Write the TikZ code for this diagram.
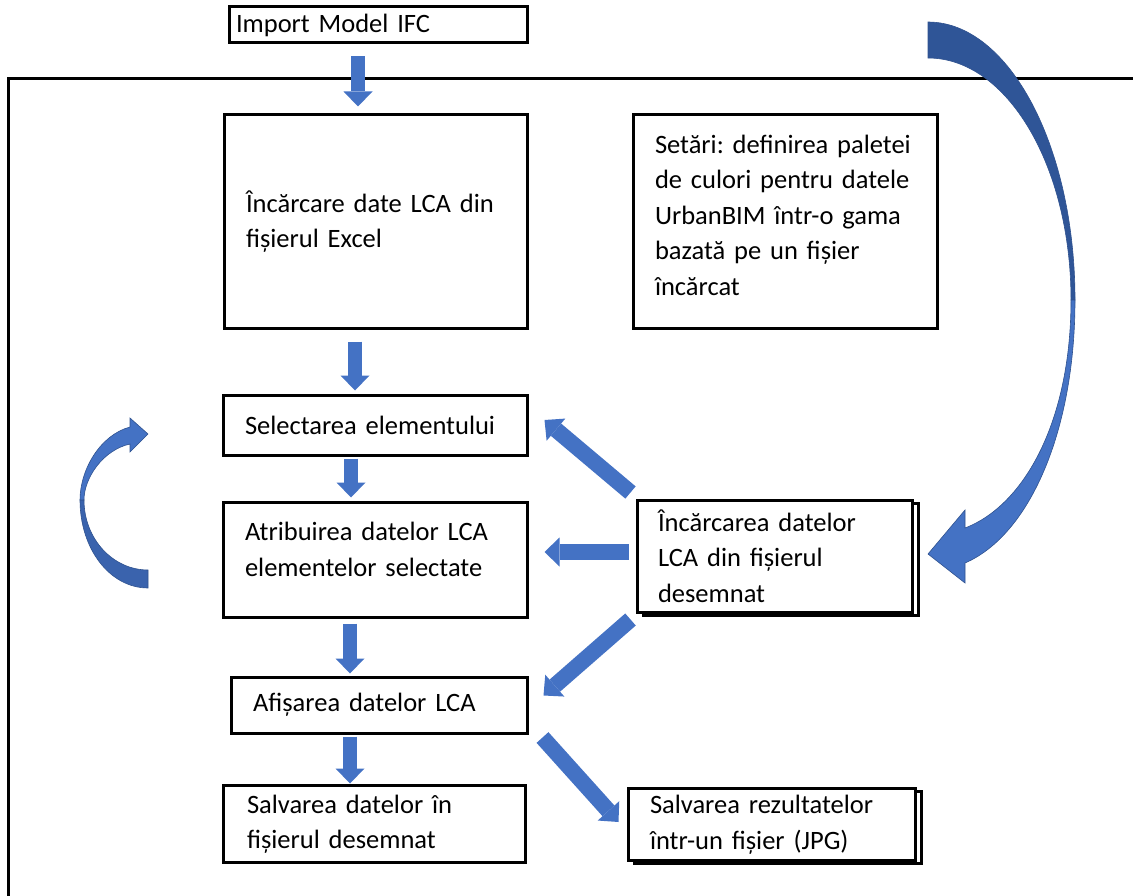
\documentclass[tikz,border=0pt]{standalone}
\usepackage{fontspec}
\setmainfont{Carlito}[WordSpace=0.7]
\frenchspacing
\usetikzlibrary{arrows.meta,shadows}
\definecolor{arrblue}{HTML}{4472C4}
\definecolor{arrdark}{HTML}{2F5597}
\definecolor{arrmid}{HTML}{3A63AD}
\definecolor{arrline}{HTML}{2F528F}

\begin{document}
\begin{tikzpicture}[x=1pt, y=-1pt,
  box/.style={draw, line width=3pt, fill=white, align=left, inner ysep=0pt,
    inner xsep=22pt, font=\fontsize{26.5}{35.5}\selectfont},
  shadowed/.style={copy shadow={shadow xshift=6pt, shadow yshift=-3pt}},
  barrow/.style={arrblue, line width=#1,
    -{Triangle[length=15pt, width=29pt, line width=0pt]}},
  barrow/.default=14pt,
  bandarrow/.style={draw=arrline, line width=0.6pt}]
  \useasboundingbox (0,0) rectangle (1133,896);
  \draw [line width=3pt] (1133,79) -- (8,79) -- (8,896);

  \node [box, inner xsep=7pt, text width=284pt, minimum height=36pt] (1) at (378,25) {Import Model IFC};
  \node [box, text width=259pt, minimum height=213pt] (2) at (375.5,221.5)
    {Încărcare date LCA din\\ fișierul Excel};
  \node [box, text width=260pt, minimum height=213pt] (3) at (785,221.5)
    {Setări: definirea paletei\\ de culori pentru datele\\ UrbanBIM într-o gama\\ bazată pe un fișier\\ încărcat\par\kern13pt};
  \node [box, text width=260pt, minimum height=60pt] (4) at (375,425) {Selectarea elementului};
  \node [box, text width=260pt, minimum height=115pt] (5) at (375,559.5)
    {Atribuirea datelor LCA\\ elementelor selectate\par\kern20pt};
  \node [box, shadowed, inner xsep=21pt, text width=233pt, minimum height=112pt] (6) at (774.5,556)
    {Încărcarea datelor\\ LCA din fișierul\\ desemnat};
  \node [box, text width=252pt, minimum height=56pt] (7) at (379,705) {Afișarea datelor LCA};
  \node [box, inner xsep=24pt, text width=254pt, minimum height=77pt] (8) at (374,824)
    {Salvarea datelor în\\ fișierul desemnat};
  \node [box, shadowed, text width=243pt, minimum height=72pt] (9) at (771.5,824.5)
    {Salvarea rezultatelor\\ într-un fișier (JPG)};

  \draw [barrow] ([xshift=-20pt, yshift=-12pt]1.south) -- ([xshift=-17.5pt, yshift=7pt]2.north);
  \draw [barrow] ([xshift=-20.5pt, yshift=-12pt]2.south) -- ([xshift=-20pt, yshift=3pt]4.north);
  \draw [barrow] ([xshift=-24pt, yshift=-2pt]4.south) -- ([xshift=-24pt, yshift=3pt]5.north);
  \draw [barrow] ([xshift=-25pt, yshift=-5pt]5.south) -- ([xshift=-29pt, yshift=2pt]7.north);
  \draw [barrow] ([xshift=-29pt, yshift=-2pt]7.south) -- ([xshift=-24pt, yshift=0.5pt]8.north);
  \draw [barrow=16pt] ([xshift=-5pt, yshift=6pt]6.north west) -- ([xshift=16pt, yshift=5pt]4.east);
  \draw [barrow=16pt] ([xshift=-7pt, yshift=4pt]6.west) -- ([xshift=16pt, yshift=7.5pt]5.east);
  \draw [barrow=16pt] ([xshift=-5pt, yshift=-6pt]6.south west) -- ([xshift=15pt, yshift=-20pt]7.north east);
  \draw [barrow=16pt] ([xshift=14pt, yshift=-3pt]7.south east) -- ([xshift=-8pt, yshift=2.5pt]9.west);

  \filldraw [bandarrow, fill=arrdark] (928,22) .. controls (1009,22) and (1075,146.5) .. (1075,300)
    -- (1071,300) .. controls (1071,166) and (1007,58) .. (928,58) -- cycle;
  \filldraw [bandarrow, fill=arrblue] (1071,300) -- (1075,300) .. controls (1075,430) and (1030,535) .. (965,563)
    -- (965,583) -- (928,554) -- (965,510) -- (965,528) .. controls (1025,505) and (1071,420) .. (1071,300) -- cycle;
  \filldraw [bandarrow, fill=arrmid] (148,588) .. controls (110,588) and (80,549) .. (80,500)
    -- (84,500) .. controls (84,539) and (113,570) .. (148,570) -- cycle;
  \filldraw [bandarrow, fill=arrblue] (80,500) .. controls (80,470) and (100,435) .. (130,427)
    -- (130,418) -- (148,434) -- (130,452) -- (130,444) .. controls (103,450) and (84,478) .. (84,500) -- cycle;
\end{tikzpicture}
\end{document}
